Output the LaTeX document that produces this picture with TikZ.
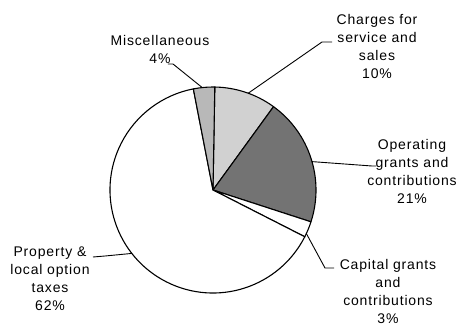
\documentclass[tikz,border=0pt]{standalone}
\usepackage{fontspec}
\setmainfont{Liberation Sans}
\usepackage{tikz}
\usetikzlibrary{positioning}
\definecolor{misccol}{gray}{0.72}
\definecolor{chargecol}{gray}{0.82}
\definecolor{opercol}{gray}{0.45}

\begin{document}
\begin{tikzpicture}[
  x=1pt, y=1pt,
  lbl/.style={align=center, inner sep=0pt, font=\fontsize{14}{18}\selectfont\addfontfeature{LetterSpace=6}},
  slice/.style={draw=black, line width=1.1pt, line join=round},
  lead/.style={draw=black, line width=0.9pt}
]
\useasboundingbox (-213,-135) rectangle (250,190);
% slices, clockwise from the top
\path[slice, fill=chargecol] (0,0) -- (89:103) arc[start angle=89, end angle=54, radius=103] -- cycle;
\path[slice, fill=opercol] (0,0) -- (54:103) arc[start angle=54, end angle=-18, radius=103] -- cycle;
\path[slice, fill=white] (0,0) -- (-18:103) arc[start angle=-18, end angle=-27, radius=103] -- cycle;
\path[slice, fill=white] (0,0) -- (-27:103) arc[start angle=-27, end angle=-259, radius=103] -- cycle;
\path[slice, fill=misccol] (0,0) -- (101:103) arc[start angle=101, end angle=89, radius=103] -- cycle;
% labels
\node[lbl] (misc) at (-53,141) {Miscellaneous\\4\%};
\node[lbl] (charges) at (164,143.5) {Charges for\\service and\\sales\\10\%};
\node[lbl] (oper) at (199,18.5) {Operating\\grants and\\contributions\\21\%};
\node[lbl] (capital) at (175,-101.5) {Capital grants\\and\\contributions\\3\%};
\node[lbl] (property) at (-163,-88.5) {Property \&\\local option\\taxes\\62\%};
% leaders
\coordinate (miscend) at (96:103);
\coordinate (chargeend) at (70:103);
\coordinate (operend) at (16:103);
\coordinate (capend) at (-25:103);
\coordinate (propend) at (218:103);
\draw[lead] (-45,126) -- (-40,126) -- (miscend);
\draw[lead] (119,148) -- (109,148) -- (chargeend);
\draw[lead] (operend) -- (159,24) -- (163,24);
\draw[lead] (capend) -- (112,-78) -- (121,-78);
\draw[lead] (-120,-67) -- (-108,-66) -- (propend);
\end{tikzpicture}
\end{document}
